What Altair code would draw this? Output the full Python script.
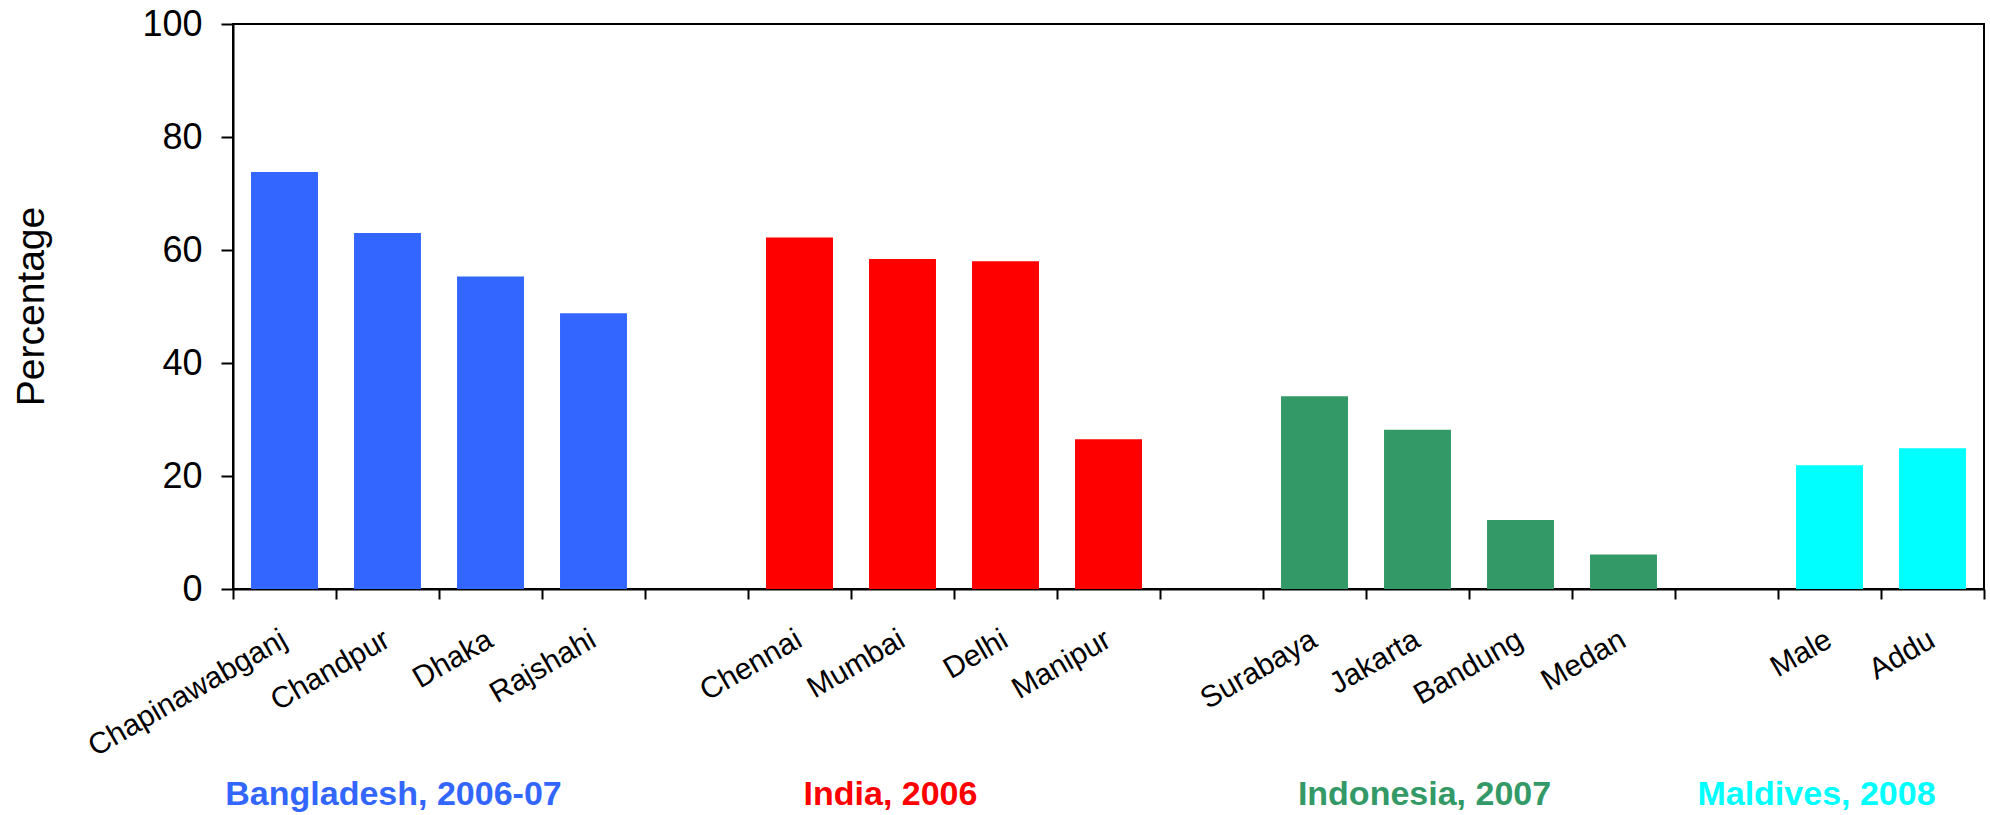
import altair as alt
import pandas as pd

# ---- data ----
cities = ["Chapinawabganj", "Chandpur", "Dhaka", "Rajshahi",
          "Chennai", "Mumbai", "Delhi", "Manipur",
          "Surabaya", "Jakarta", "Bandung", "Medan",
          "Male", "Addu"]
values = [73.8, 63.0, 55.3, 48.8,
          62.2, 58.4, 58.0, 26.5,
          34.1, 28.2, 12.2, 6.1,
          21.9, 24.9]
groups = (["Bangladesh, 2006-07"] * 4 + ["India, 2006"] * 4 +
          ["Indonesia, 2007"] * 4 + ["Maldives, 2008"] * 2)
group_names = ["Bangladesh, 2006-07", "India, 2006", "Indonesia, 2007", "Maldives, 2008"]
group_colors = ["#3366FF", "#FF0000", "#339966", "#00FFFF"]
group_anchor = ["Chandpur", "Mumbai", "Jakarta", "Male"]
y_ticks = [0, 20, 40, 60, 80, 100]

# category slots, with empty slots separating the countries
slots = cities[0:4] + [" "] + cities[4:8] + ["  "] + cities[8:12] + ["   "] + cities[12:14]

df = pd.DataFrame({"city": cities, "value": values, "group": groups})
FONT = "Liberation Sans"

x_enc = alt.X(
    "city:N",
    sort=slots,
    scale=alt.Scale(domain=slots, paddingInner=0, paddingOuter=0),
    axis=alt.Axis(
        title=None, labelAngle=330, labelAlign="right", labelBaseline="top",
        labelFontSize=30, labelFont=FONT, labelColor="black", labelPadding=25,
        labelOffset=-8, labelLimit=500, labelOverlap=False, tickBand="extent",
        tickSize=10, tickWidth=2, tickColor="black", domainColor="black",
        domainWidth=2,
    ),
)

bars = alt.Chart(df).mark_bar(width=alt.RelativeBandSize(0.65)).encode(
    x=x_enc,
    y=alt.Y(
        "value:Q",
        scale=alt.Scale(domain=[0, 100], nice=False),
        axis=alt.Axis(
            values=y_ticks, grid=False, title="Percentage", titleFontSize=39,
            titleFont=FONT, titleFontWeight="normal", titleColor="black",
            titleAngle=270, titleAlign="center", titleBaseline="alphabetic",
            titleX=-190, titleY=282, labelFontSize=36, labelFont=FONT,
            labelColor="black", labelPadding=19, tickSize=12, tickWidth=2,
            tickColor="black", domainColor="black", domainWidth=2,
        ),
    ),
    color=alt.Color("group:N", scale=alt.Scale(domain=group_names, range=group_colors), legend=None),
)

offsets = {"Bangladesh, 2006-07": 6, "India, 2006": -12, "Indonesia, 2007": 7, "Maldives, 2008": -13}
layers = [bars]
for name, color, anchor in zip(group_names, group_colors, group_anchor):
    lab = pd.DataFrame({"city": [anchor], "label": [name]})
    layers.append(
        alt.Chart(lab).mark_text(
            font=FONT, fontSize=34, fontWeight="bold", color=color,
            align="center", baseline="alphabetic", dx=offsets[name],
        ).encode(
            x=alt.X("city:N", sort=slots),
            y=alt.value(781),
            text="label:N",
        )
    )

chart = alt.layer(*layers).properties(
    width=1751, height=565,
    autosize=alt.AutoSizeParams(type="none"),
    padding={"left": 233, "top": 24, "right": 6, "bottom": 226},
).configure_view(stroke="black", strokeWidth=2)

chart.save("out.html", embed_options={"renderer": "svg", "actions": False})
